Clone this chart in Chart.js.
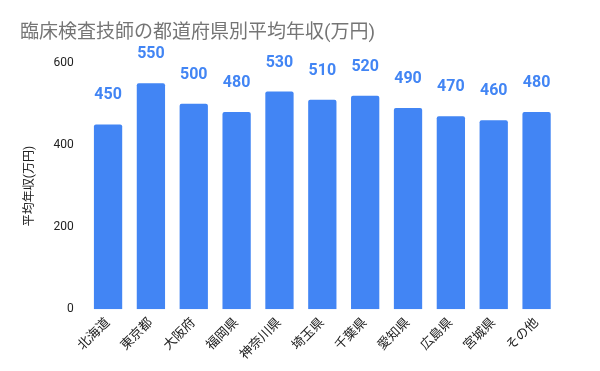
<!DOCTYPE html>
<html><head><meta charset="utf-8">
<script src="https://cdn.jsdelivr.net/npm/chart.js@4.4.0/dist/chart.umd.min.js"></script>
<style>html,body{margin:0;padding:0;background:#fff}#w{width:600px;height:371px}</style>
</head><body><div id="w"><canvas id="c"></canvas></div>
<script>
const categories = ["北海道","東京都","大阪府","福岡県","神奈川県","埼玉県","千葉県","愛知県","広島県","宮城県","その他"];
const salaries = [450,550,500,480,530,510,520,490,470,460,480];
const yTicks = [0,200,400,600];
const titleText = "臨床検査技師の都道府県別平均年収(万円)";
const yTitle = "平均年収(万円)";
const FONT = "Roboto, 'Noto Sans CJK JP', sans-serif";

const valueLabels = {
  id: 'valueLabels',
  afterDatasetsDraw(chart) {
    const ctx = chart.ctx;
    const meta = chart.getDatasetMeta(0);
    ctx.save();
    ctx.font = "bold 16px " + FONT;
    ctx.fillStyle = "#4285f4";
    ctx.textAlign = "center";
    ctx.textBaseline = "middle";
    meta.data.forEach((bar, i) => {
      const p = bar.getProps(['x','y'], true);
      ctx.fillText(String(chart.data.datasets[0].data[i]), p.x, p.y - 29);
    });
    ctx.restore();
  }
};

new Chart(document.getElementById('c'), {
  type: 'bar',
  data: { labels: categories, datasets: [{ data: salaries, backgroundColor: "#4285f4", borderRadius: 2, borderSkipped: 'bottom', categoryPercentage: 1, barPercentage: 0.66 }] },
  options: {
    responsive: true, maintainAspectRatio: false, animation: false,
    layout: { padding: { left: 20, right: 42, top: 0, bottom: 2 } },
    plugins: {
      legend: { display: false }, tooltip: { enabled: false },
      title: { display: true, text: titleText, align: 'start', color: '#757575', font: { family: FONT, size: 19, weight: 'normal' }, padding: { top: 22, bottom: 18 } }
    },
    scales: {
      x: { grid: { display: false, drawTicks: false }, border: { display: false },
           ticks: { maxRotation: 45, minRotation: 45, color: '#222', font: { family: FONT, size: 13 }, padding: 6 } },
      y: { min: 0, max: 600, grid: { display: false, drawTicks: false }, border: { display: false },
           afterBuildTicks(s) { s.ticks = yTicks.map(v => ({ value: v })); },
           ticks: { color: '#222', font: { family: FONT, size: 12 }, padding: 13 },
           title: { display: true, text: yTitle, color: '#222', font: { family: FONT, size: 12 }, padding: { top: 3, bottom: 3 } } }
    }
  },
  plugins: [valueLabels]
});
</script></body></html>
